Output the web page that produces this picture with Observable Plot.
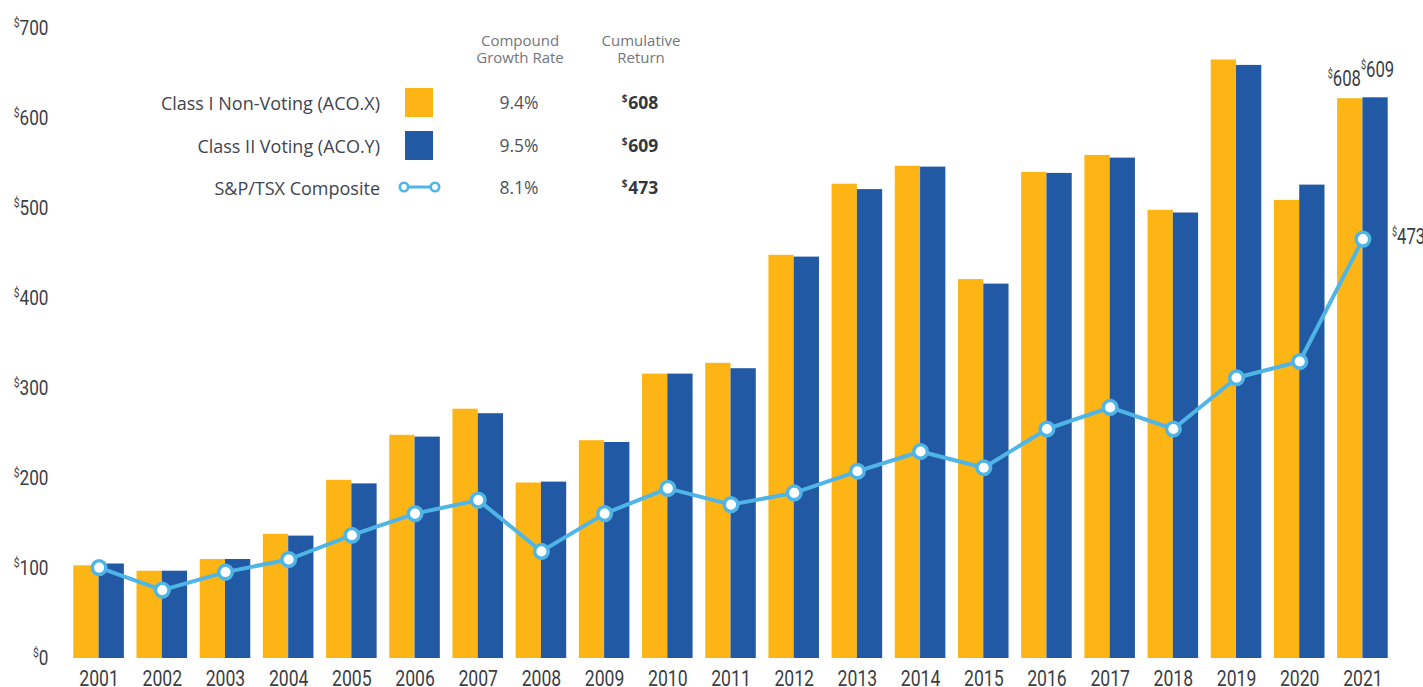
<!DOCTYPE html>
<html><head><meta charset="utf-8">
<script src="https://cdn.jsdelivr.net/npm/d3@7"></script>
<script src="https://cdn.jsdelivr.net/npm/@observablehq/plot@0.6"></script>
<style>
html,body{margin:0;padding:0;background:#fff;}
#wrap{position:relative;width:1423px;height:687px;overflow:hidden;}
.lg{position:absolute;font-family:"Open Sans",sans-serif;white-space:nowrap;line-height:1;}
.hd{font-size:15px;color:#72767e;text-align:center;line-height:17px;height:17px;transform:translateX(-50%);}
.lbl{font-size:18px;color:#3f4450;transform:translate(-100%,-50%);}
.rate{font-size:17.5px;color:#4d525c;transform:translate(-50%,-50%);}
.cum{font-size:17.5px;font-weight:700;color:#333840;transform:translate(-50%,-50%);}
.cum sup{font-size:10px;vertical-align:top;position:relative;top:-1px;margin-right:1px;}
</style></head><body><div id="wrap"></div>
<script>
// ---- data ----
const years = [2001,2002,2003,2004,2005,2006,2007,2008,2009,2010,2011,2012,2013,2014,2015,2016,2017,2018,2019,2020,2021];
const classI  = [103, 97, 110, 138, 198, 248, 277, 195, 242, 316, 328, 448, 527, 547, 421, 540, 559, 498, 665, 509, 622];
const classII = [105, 97, 110, 136, 194, 246, 272, 196, 240, 316, 322, 446, 521, 546, 416, 539, 556, 495, 659, 526, 623];
const spTsx   = [101, 76,  96, 110, 137, 161, 176, 119, 161, 189, 171, 184, 208, 230, 212, 255, 279, 255, 312, 330, 466];
const yTicks = [0,100,200,300,400,500,600,700];
const seriesNames = ["Class I Non-Voting (ACO.X)", "Class II Voting (ACO.Y)", "S&P/TSX Composite"];
const growthRates = ["9.4%", "9.5%", "8.1%"];
const cumulative = [608, 609, 473];
const headers = [["Compound","Growth Rate"],["Cumulative","Return"]];
const colors = ["#FDB515", "#2259A5", "#4FB5E6"];

// ---- layout ----
const W = 1423, H = 687, ML = 67, MR = 29, MT = 28, MB = 29;
const PI = 0.2, PO = 0.1;
const step = (W - ML - MR) / (years.length - PI + 2 * PO);
const half = step * (1 - PI) / 2;

const data = years.map((y, i) => ({year: String(y), a: classI[i], b: classII[i], s: spTsx[i]}));
const last = [data[data.length - 1]];
const narrow = 'Roboto,"Liberation Sans",sans-serif';
const ink = "#3a3e46";

const chart = Plot.plot({
  width: W, height: H, marginLeft: ML, marginRight: MR, marginTop: MT, marginBottom: MB,
  style: {fontFamily: narrow, background: "#fff", overflow: "visible"},
  x: {type: "band", domain: years.map(String), paddingInner: PI, paddingOuter: PO, round: false},
  y: {domain: [0, 700]},
  marks: [
    Plot.barY(data, {x: "year", y: "a", fill: colors[0], insetRight: half, insetLeft: 0}),
    Plot.barY(data, {x: "year", y: "b", fill: colors[1], insetLeft: half, insetRight: 0}),
    Plot.line(data, {x: "year", y: "s", stroke: colors[2], strokeWidth: 4}),
    Plot.dot(data, {x: "year", y: "s", r: 6.8, fill: "white", stroke: colors[2], strokeWidth: 3.5}),
    Plot.axisX({tickSize: 0, tickPadding: 12, fontSize: 22, label: null, color: ink}),
    Plot.axisY(yTicks, {tickSize: 0, tickPadding: 19, fontSize: 20, label: null, color: ink, tickFormat: d => "$" + d}),
    Plot.text(last, {x: "year", y: "a", text: () => "$" + cumulative[0], textAnchor: "end", dx: -2, dy: -20, fontSize: 22, fill: ink}),
    Plot.text(last, {x: "year", y: "b", text: () => "$" + cumulative[1], textAnchor: "start", dx: -2, dy: -28, fontSize: 22, fill: ink}),
    Plot.text(last, {x: "year", y: "s", text: () => "$" + cumulative[2], textAnchor: "start", dx: 29, dy: -2, fontSize: 22, fill: ink})
  ]
});

// superscript dollar signs + condensed look
const NS = "http://www.w3.org/2000/svg";
chart.querySelectorAll("text").forEach(t => {
  const s = t.textContent;
  const role = (t.closest("g") && t.closest("g").getAttribute("aria-label")) || "";
  if (s.startsWith("$")) {
    t.textContent = "";
    const a = document.createElementNS(NS, "tspan");
    a.setAttribute("font-size", "12");
    a.setAttribute("dy", "-8");
    a.textContent = "$";
    const b = document.createElementNS(NS, "tspan");
    b.setAttribute("dy", "8");
    b.textContent = s.slice(1);
    t.append(a, b);
  }
  const k = role === "text" ? 0.76 : role.startsWith("x-axis") ? 0.8 : 0.86;
  const tr = t.getAttribute("transform");
  if (tr) {
    t.setAttribute("transform", tr + ` scale(${k},1)`);
  } else {
    const x = +(t.getAttribute("x") || 0);
    const yAttr = String(t.getAttribute("y") || "");
    const y = yAttr.includes("em") ? 0 : +(yAttr || 0);
    t.removeAttribute("x");
    if (!yAttr.includes("em")) t.removeAttribute("y");
    t.setAttribute("transform", `translate(${x},${y}) scale(${k},1)`);
  }
});

const wrap = document.getElementById("wrap");
wrap.appendChild(chart);

// ---- legend table overlay ----
function add(cls, html, x, y) {
  const d = document.createElement("div");
  d.className = "lg " + cls;
  d.style.left = x + "px"; d.style.top = y + "px";
  d.innerHTML = html;
  wrap.appendChild(d);
  return d;
}
[[520, headers[0]], [641, headers[1]]].forEach(([x, lines]) => {
  lines.forEach((l, j) => { const d = add("hd", "", x, 32 + j * 17); d.textContent = l; });
});
const rowY = [103, 146, 188];
seriesNames.forEach((n, i) => {
  const d = add("lbl", "", 380, rowY[i]);
  d.textContent = n;
  add("rate", growthRates[i], 519, rowY[i]);
  add("cum", "<sup>$</sup>" + cumulative[i], 640, rowY[i]);
});
// swatches
[0, 1].forEach(i => {
  const s = document.createElement("div");
  s.style.cssText = `position:absolute;left:405px;top:${rowY[i] - 15}px;width:28px;height:29px;background:${colors[i]};`;
  wrap.appendChild(s);
});
const ic = document.createElementNS(NS, "svg");
ic.setAttribute("width", 46); ic.setAttribute("height", 16);
ic.style.cssText = `position:absolute;left:397px;top:${rowY[2] - 9}px;`;
ic.innerHTML = `<line x1="7" y1="8" x2="38" y2="8" stroke="${colors[2]}" stroke-width="3"/>
<circle cx="7" cy="8" r="4.2" fill="#fff" stroke="${colors[2]}" stroke-width="2.6"/>
<circle cx="38" cy="8" r="4.2" fill="#fff" stroke="${colors[2]}" stroke-width="2.6"/>`;
wrap.appendChild(ic);
</script>
</body></html>
